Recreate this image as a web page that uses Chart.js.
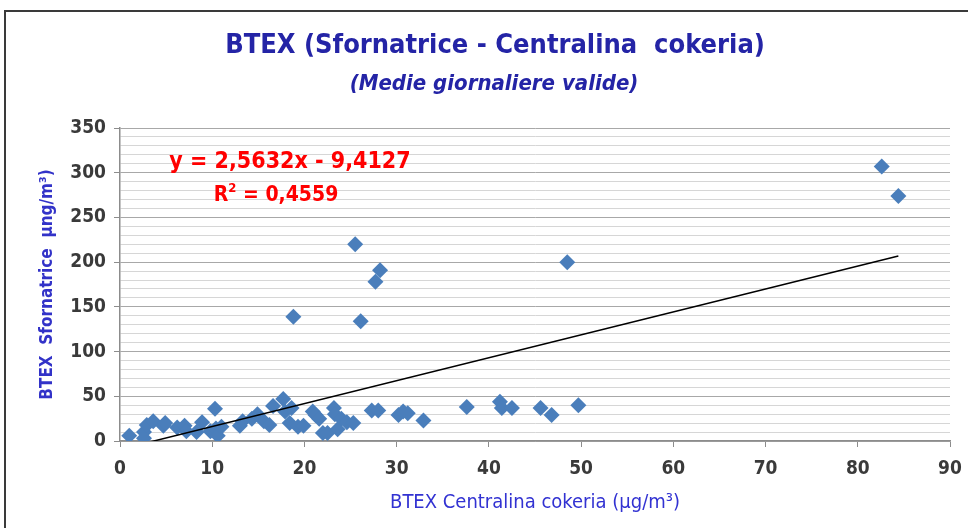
<!DOCTYPE html>
<html>
<head>
<meta charset="utf-8">
<script src="https://cdn.jsdelivr.net/npm/chart.js"></script>
<style>
  body { margin: 0; background: #fff; }
  #wrap { position: relative; width: 968px; height: 528px; overflow: hidden; }
  #frame { position: absolute; left: 4px; top: 10px; width: 990px; height: 560px; border: 2px solid #3a3a3a; box-sizing: border-box; }
  canvas { position: absolute; left: 0; top: 0; }
</style>
</head>
<body>
<div id="wrap">
  <div id="frame"></div>
  <canvas id="chart" width="968" height="528"></canvas>
</div>
<script>
// BTEX Centralina cokeria (x) vs BTEX Sfornatrice (y), daily means
const centralina = [1.0, 2.6, 2.6, 2.9, 3.6, 4.7, 4.9, 6.2, 7.0, 7.2, 8.3, 8.9, 9.8, 10.3, 10.4, 10.6, 11.0,
  13.0, 13.3, 14.3, 14.9, 15.6, 16.2, 16.6, 17.7, 17.9, 18.4, 18.6, 18.8, 19.3, 19.9, 20.9, 21.2, 21.6,
  22.0, 22.5, 23.2, 23.3, 23.6, 24.0, 24.6, 25.3, 25.5, 26.1, 27.3, 27.7, 28.0, 28.2, 30.2, 30.7, 31.2,
  32.9, 37.6, 41.2, 41.4, 42.5, 45.6, 46.8, 48.5, 49.7, 82.6, 84.4];
const sfornatrice = [6, 3, 10, 18, 22, 17, 20, 15, 17, 11, 10, 21, 11, 36, 14, 6, 16,
  17, 22, 25, 30, 22, 18, 39, 47, 33, 20, 37, 139, 16, 17, 33, 29, 25,
  9, 9, 37, 30, 13, 25, 21, 20, 220, 134, 34, 178, 34, 191, 29, 33, 31,
  23, 38, 44, 37, 37, 37, 29, 200, 40, 307, 274];

// linear trendline shown on the chart
const trendSlope = 2.5632;
const trendIntercept = -9.4127;
const trendLabel = 'y = 2,5632x - 9,4127';
const r2Label = '0,4559';

const points = centralina.map((x, i) => ({ x: x, y: sfornatrice[i] }));
const xMin = Math.min(...centralina), xMax = Math.max(...centralina);
const trend = [xMin, xMax].map(x => ({ x: x, y: trendSlope * x + trendIntercept }));

const narrow = "'Liberation Sans Narrow', 'DejaVu Sans Condensed', Roboto, sans-serif";

const textPlugin = {
  id: 'texts',
  afterDraw(chart) {
    const c = chart.ctx;
    c.save();
    c.textAlign = 'center';
    c.textBaseline = 'middle';
    c.fillStyle = '#2424a6';
    c.font = 'bold 27px ' + narrow;
    c.fillText('BTEX (Sfornatrice - Centralina  cokeria)', 495, 46);
    c.font = 'italic bold 22px ' + narrow;
    c.fillText('(Medie giornaliere valide)', 494, 84);

    // trendline equation
    c.fillStyle = '#ff0000';
    c.font = 'bold 23px ' + narrow;
    c.fillText(trendLabel, 290, 162);
    c.textAlign = 'left';
    c.font = 'bold 21px ' + narrow;
    const a = 'R', b = ' = ' + r2Label;
    const wa = c.measureText(a).width;
    const wb = c.measureText(b).width;
    c.font = 'bold 13px ' + narrow;
    const ws = c.measureText('2').width;
    let x0 = 276 - (wa + ws + wb) / 2;
    c.font = 'bold 21px ' + narrow;
    c.fillText(a, x0, 196);
    c.font = 'bold 13px ' + narrow;
    c.fillText('2', x0 + wa, 189);
    c.font = 'bold 21px ' + narrow;
    c.fillText(b, x0 + wa + ws, 196);
    c.restore();
  }
};

new Chart(document.getElementById('chart'), {
  type: 'scatter',
  data: {
    datasets: [
      {
        type: 'line',
        data: trend,
        borderColor: '#000000',
        borderWidth: 1.5,
        pointRadius: 0,
        fill: false,
        order: 0
      },
      {
        data: points,
        pointStyle: 'rectRot',
        pointRadius: 8,
        backgroundColor: '#4a7ebb',
        borderColor: '#4a7ebb',
        borderWidth: 0,
        order: 1
      }
    ]
  },
  options: {
    responsive: false,
    animation: false,
    layout: { padding: { top: 128, right: 18, left: 0, bottom: 0 } },
    plugins: { legend: { display: false }, tooltip: { enabled: false } },
    scales: {
      x: {
        type: 'linear',
        min: 0,
        max: 90,
        ticks: { stepSize: 10, color: '#3a3a3a', font: { family: narrow, size: 19, weight: 'bold' }, padding: 11 },
        grid: { drawOnChartArea: false, tickLength: 6, color: '#8c8c8c' },
        border: { color: '#8c8c8c', width: 1.5 },
        title: { display: true, text: 'BTEX Centralina cokeria (µg/m³)', color: '#3232d2',
          font: { family: narrow, size: 20 }, padding: { top: 8, bottom: 13 } },
        afterFit(s) { s.height = 87; s.paddingRight = 0; s.paddingLeft = 0; }
      },
      y: {
        min: 0,
        max: 350,
        ticks: {
          stepSize: 10, autoSkip: false, color: '#3a3a3a',
          font: { family: narrow, size: 19, weight: 'bold' }, padding: 8,
          callback: v => (v % 50 === 0 ? v : '')
        },
        grid: {
          tickLength: 6,
          color: ctx => (ctx.tick && ctx.tick.value % 50 === 0 ? '#a8a8a8' : '#d6d6d6'),
          tickColor: ctx => (ctx.tick && ctx.tick.value % 50 === 0 ? '#8c8c8c' : 'rgba(0,0,0,0)')
        },
        border: { color: '#8c8c8c', width: 1.5 },
        title: { display: true, text: 'BTEX  Sfornatrice  µng/m³)', color: '#3232c8',
          font: { family: narrow, size: 17, weight: 'bold' }, padding: { top: 37, bottom: 0 } },
        afterFit(s) { s.width = 120; }
      }
    }
  },
  plugins: [textPlugin]
});
</script>
</body>
</html>
